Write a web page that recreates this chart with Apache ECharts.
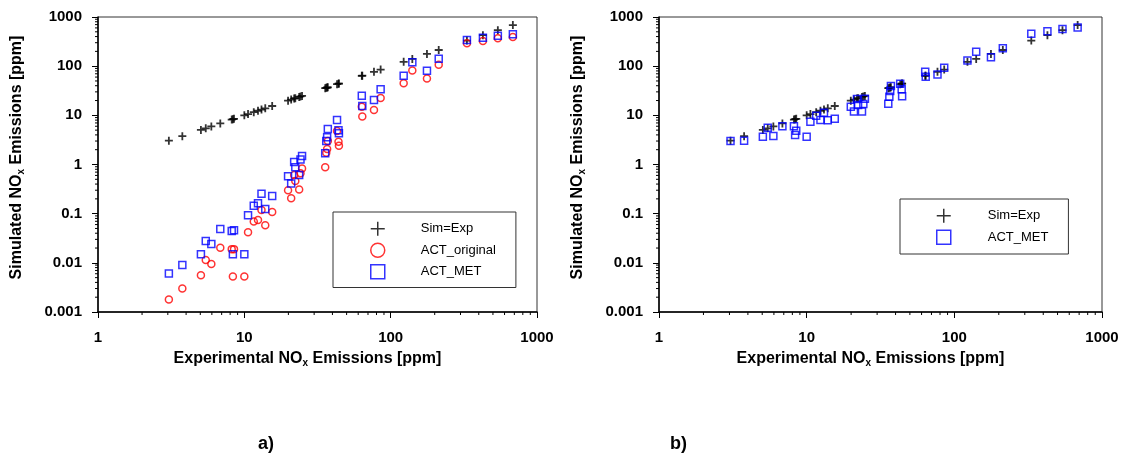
<!DOCTYPE html>
<html>
<head>
<meta charset="utf-8">
<title>NOx emissions</title>
<script src="https://cdn.jsdelivr.net/npm/echarts@6/dist/echarts.min.js"></script>
<style>
  html, body { margin: 0; padding: 0; background: #fff; }
  #main { width: 1126px; height: 458px; }
</style>
</head>
<body>
<div id="main"></div>
<script>
// experimental NOx [ppm], one entry per test point
const expNox = [3.05, 3.77, 5.05, 5.45, 5.95, 6.85, 8.2, 8.35, 8.5, 10.0,
  10.6, 11.6, 12.4, 13.1, 13.9, 15.5, 19.9, 20.9, 21.9, 22.3,
  23.7, 24.2, 24.8, 35.7, 36.3, 36.8, 37.2, 43.0, 44.0, 44.3,
  63.5, 64.0, 76.9, 85.4, 122.7, 140.6, 177, 213, 332, 427, 540, 684]

// a) simulated with the original activation
const actOriginal = [0.0018, 0.003, 0.0056, 0.0114, 0.0095, 0.0203, 0.019, 0.0053, 0.019, 0.0053,
  0.042, 0.069, 0.074, 0.119, 0.058, 0.108, 0.30, 0.205, 0.61, 0.46,
  0.31, 0.66, 0.83, 0.88, 1.74, 2.07, 3.0, 4.8, 2.9, 2.4,
  15, 9.5, 12.8, 22.5, 45, 82, 56, 107, 291, 325, 368, 392]

// a) simulated with ACT_MET
const actMetA = [0.0061, 0.009, 0.0149, 0.0278, 0.0242, 0.0488, 0.0443, 0.0149, 0.046, 0.0149,
  0.0925, 0.145, 0.162, 0.255, 0.124, 0.229, 0.58, 0.41, 1.12, 0.88,
  0.61, 1.26, 1.49, 1.69, 3.0, 3.6, 5.3, 8.0, 5.0, 4.3,
  25, 15.5, 20.5, 34, 64, 120, 81, 142, 340, 379, 417, 444]

// b) simulated with ACT_MET (tuned)
const actMetB = [3.0, 3.05, 3.68, 5.6, 3.8, 5.98, 5.98, 3.98, 4.87, 3.68,
  7.43, 9.84, 8.03, 11.3, 7.9, 8.55, 15, 11.9, 21.5, 16.2,
  11.9, 17, 21.8, 17.3, 23.9, 31.2, 39.5, 44, 33.8, 24.4,
  77, 61, 68, 93, 131, 197, 151, 231, 457, 515, 572, 610]

const xRange = [1, 1000]
const yRange = [0.001, 1000]
const xTitle = 'Experimental NO{s|x} Emissions [ppm]'
const yTitle = 'Simulated NO{s|x} Emissions [ppm]'
const panelLabels = ['a)', 'b)']

const font = '"Liberation Sans", Arial, sans-serif'
const crossPath = 'path://M0,5L10,5M5,0L5,10'

// 2..9 in every decade, for the small ticks
function minorValues(lo, hi) {
  let out = []
  for (let d = Math.round(Math.log10(lo)); d < Math.round(Math.log10(hi)); d++) {
    for (let k = 2; k <= 9; k++) out.push(+(k * Math.pow(10, d)).toPrecision(3))
  }
  return out
}

const fmt = v => String(+(+v).toPrecision(6))

const titleStyle = {
  fontFamily: font, fontSize: 16, fontWeight: 'bold', color: '#000', lineHeight: 18,
  rich: { s: { fontFamily: font, fontSize: 10, fontWeight: 'bold', color: '#000', lineHeight: 9, verticalAlign: 'bottom' } }
}

function xAxisFor(i) {
  return {
    gridIndex: i, type: 'log', logBase: 10, min: xRange[0], max: xRange[1],
    name: xTitle, nameLocation: 'middle', nameGap: 34,
    nameTextStyle: Object.assign({ padding: [0, 20, 0, 0] }, titleStyle),
    axisLine: { show: true, lineStyle: { color: '#000', width: 1.5 } },
    axisTick: { show: true, inside: false, length: 6, lineStyle: { color: '#000' } },
    axisLabel: { fontFamily: font, fontSize: 15, fontWeight: 'bold', color: '#000', margin: 18, formatter: fmt },
    splitLine: { show: false }, minorTick: { show: false }
  }
}

function yAxisFor(i) {
  return {
    gridIndex: i, type: 'log', logBase: 10, min: yRange[0], max: yRange[1],
    name: yTitle, nameLocation: 'middle', nameGap: 72,
    nameTextStyle: Object.assign({ padding: [0, 0, 0, 14] }, titleStyle),
    axisLine: { show: true, lineStyle: { color: '#000', width: 1.5 } },
    axisTick: { show: true, inside: false, length: 6, lineStyle: { color: '#000' } },
    axisLabel: { fontFamily: font, fontSize: 15, fontWeight: 'bold', color: '#000', margin: 16, formatter: fmt },
    splitLine: { show: false }, minorTick: { show: false }
  }
}

function scatter(name, i, ys, symbol, color, size, lw) {
  return {
    name: name, type: 'scatter', xAxisIndex: i, yAxisIndex: i,
    data: expNox.map((x, k) => [x, ys[k]]),
    symbol: symbol, symbolSize: size,
    itemStyle: { color: 'rgba(0,0,0,0)', borderColor: color, borderWidth: lw },
    emphasis: { disabled: true }
  }
}

function minorTickSeries(i, dir) {
  let data = dir === 'x'
    ? minorValues(xRange[0], xRange[1]).map(v => [v, yRange[0]])
    : minorValues(yRange[0], yRange[1]).map(v => [xRange[0], v])
  return {
    type: 'custom', xAxisIndex: i, yAxisIndex: i, clip: false, silent: true, z: 5,
    data: data,
    renderItem: (params, api) => {
      let p = api.coord([api.value(0), api.value(1)])
      let shape = dir === 'x'
        ? { x1: p[0], y1: p[1], x2: p[0], y2: p[1] + 3 }
        : { x1: p[0] - 3, y1: p[1], x2: p[0], y2: p[1] }
      return { type: 'line', shape: shape, style: { stroke: '#000', lineWidth: 1 } }
    }
  }
}

const legendBase = {
  orient: 'vertical', itemWidth: 14, itemHeight: 14, itemGap: 6,
  backgroundColor: '#fff', borderColor: '#333', borderWidth: 1,
  itemStyle: { borderWidth: 1.5 },
  textStyle: { fontFamily: font, fontSize: 13, color: '#000', lineHeight: 14 }
}

const option = {
  animation: false,
  grid: [
    { left: 98, top: 17, width: 439, height: 295, show: true, borderColor: '#333', borderWidth: 1 },
    { left: 659, top: 17, width: 443, height: 295, show: true, borderColor: '#333', borderWidth: 1 }
  ],
  xAxis: [xAxisFor(0), xAxisFor(1)],
  yAxis: [yAxisFor(0), yAxisFor(1)],
  legend: [
    Object.assign({}, legendBase, {
      left: 333, top: 212, padding: [9, 20, 8, 37],
      data: ['Sim=Exp', 'ACT_original', 'ACT_MET'],
      textStyle: Object.assign({}, legendBase.textStyle, { padding: [0, 0, 0, 31] })
    }),
    Object.assign({}, legendBase, {
      left: 900, top: 199, padding: [9, 20, 9, 36],
      data: ['Sim=Exp', 'ACT_MET'],
      textStyle: Object.assign({}, legendBase.textStyle, { padding: [0, 0, 0, 32] })
    })
  ],
  series: [
    scatter('Sim=Exp', 0, expNox, crossPath, '#000', 8, 1.8),
    scatter('ACT_original', 0, actOriginal, 'circle', '#ff0000', 7, 1.5),
    scatter('ACT_MET', 0, actMetA, 'rect', '#0000ff', 7, 1.5),
    scatter('Sim=Exp', 1, expNox, crossPath, '#000', 8, 1.8),
    scatter('ACT_MET', 1, actMetB, 'rect', '#0000ff', 7, 1.5),
    minorTickSeries(0, 'x'), minorTickSeries(0, 'y'),
    minorTickSeries(1, 'x'), minorTickSeries(1, 'y')
  ],
  graphic: [
    { type: 'text', left: 258, top: 435, style: { text: panelLabels[0], font: 'bold 18px ' + font, fill: '#000' } },
    { type: 'text', left: 670, top: 435, style: { text: panelLabels[1], font: 'bold 18px ' + font, fill: '#000' } }
  ]
}

const chart = echarts.init(document.getElementById('main'), null, { renderer: 'canvas' })
chart.setOption(option)
</script>
</body>
</html>
